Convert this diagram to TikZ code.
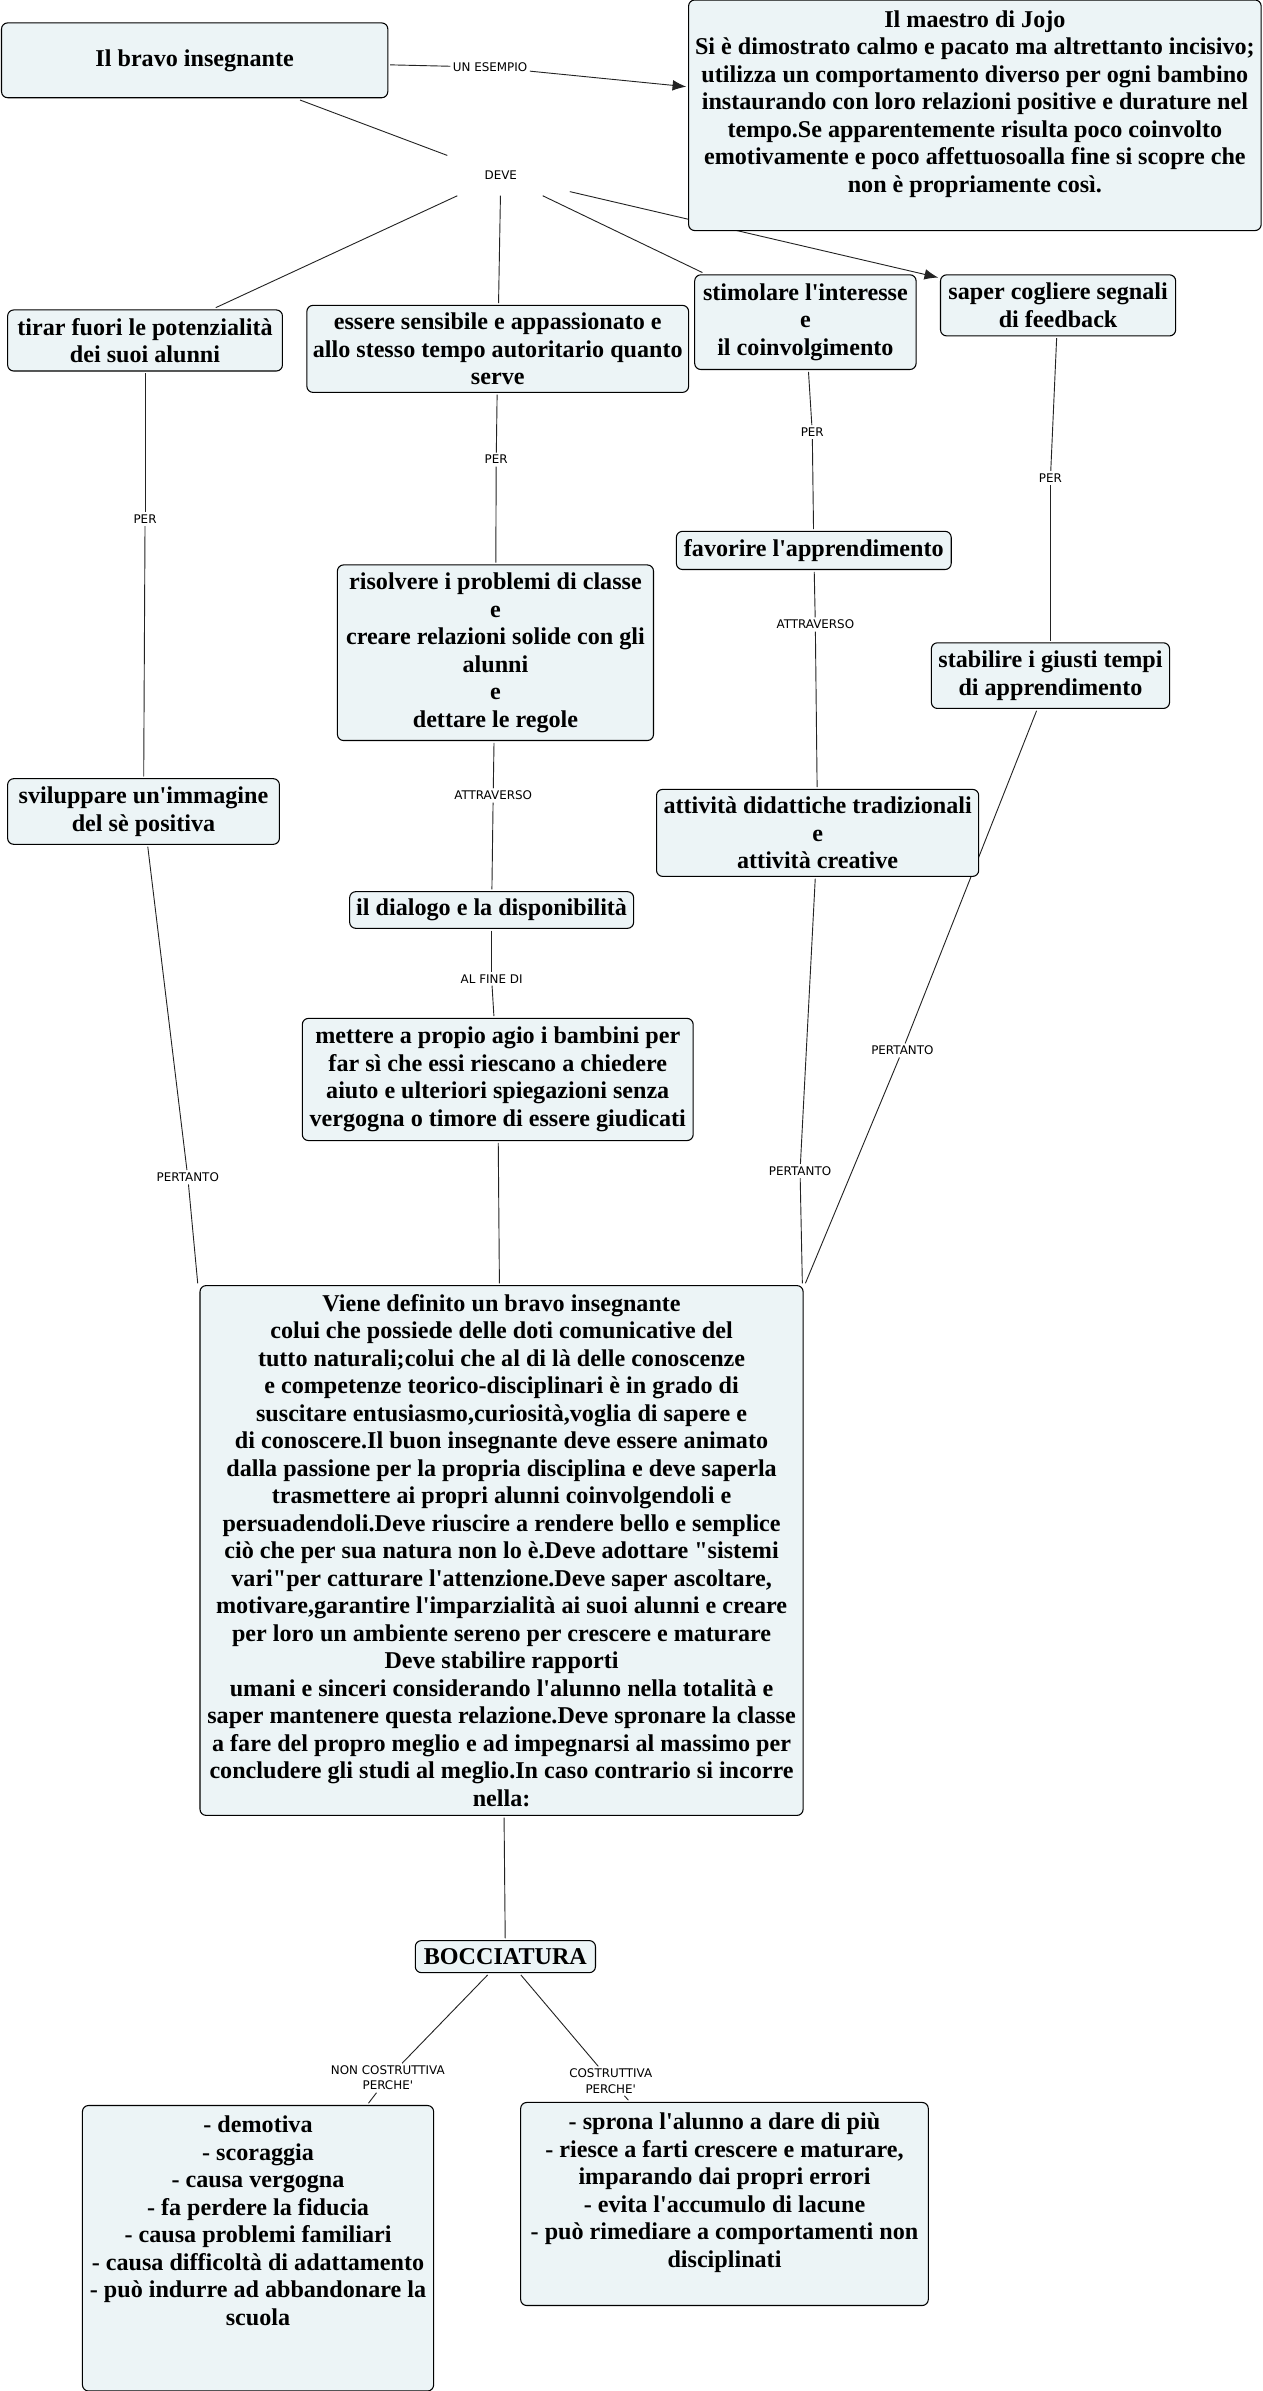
\documentclass[tikz,border=0pt]{standalone}
\usepackage{fontspec}
\usetikzlibrary{arrows.meta,backgrounds}
\newfontfamily\mapfont{Liberation Serif}
\newfontfamily\linkfont{DejaVu Sans}
\definecolor{cmapfill}{RGB}{236,244,246}
\definecolor{cmapline}{RGB}{35,35,35}
\tikzstyle{concept} = [draw=black, fill=cmapfill, rounded corners=4pt, line width=0.7pt, align=center, inner sep=1pt, outer sep=1.5pt, font=\mapfont\bfseries\fontsize{15.8}{18}\selectfont]
\tikzstyle{linkword} = [inner sep=1.5pt, align=center, font=\linkfont\fontsize{7.8}{10}\selectfont]
\tikzstyle{link} = [draw=cmapline, line width=0.6pt]
\tikzstyle{linkarrow} = [link, -{Latex[length=9pt,width=7pt]}]

\begin{document}
\begin{tikzpicture}[x=1pt,y=-1pt]%
\useasboundingbox (0,0) rectangle (827,1566);%
% concetti in alto
\node[concept, minimum width=253, minimum height=49] (bravo) at (127.5,39.5) {Il bravo insegnante};
\node[concept, minimum width=375, minimum height=151] (maestro) at (638.5,75.5) {Il maestro di Jojo\\Si è dimostrato calmo e pacato ma altrettanto incisivo;\\utilizza un comportamento diverso per ogni bambino\\instaurando con loro relazioni positive e durature nel\\tempo.Se apparentemente risulta poco coinvolto\\emotivamente e poco affettuosoalla fine si scopre che\\non è propriamente così.\\~};
\node[linkword] (esempio) at (321,44) {UN ESEMPIO};
\node[linkword, minimum width=90, minimum height=26] (deve) at (328,115) {DEVE};
% cosa deve fare
\node[concept, minimum width=180, minimum height=40] (tirar) at (95,223) {tirar fuori le potenzialità\\dei suoi alunni};
\node[concept, minimum width=250, minimum height=57] (essere) at (326,228.5) {essere sensibile e appassionato e\\allo stesso tempo autoritario quanto\\serve};
\node[concept, minimum width=145, minimum height=62] (stimolare) at (527.5,211) {stimolare l'interesse\\e\\il coinvolgimento};
\node[concept, minimum width=154, minimum height=40] (saper) at (693,200) {saper cogliere segnali\\di feedback};
% per
\node[linkword] (perTirar) at (95,340) {PER};
\node[linkword] (perEssere) at (325,301) {PER};
\node[linkword] (perStimolare) at (532,283) {PER};
\node[linkword] (perSaper) at (688,313) {PER};
\node[concept, minimum width=178, minimum height=43] (svil) at (94,531.5) {sviluppare un'immagine\\del sè positiva};
\node[concept, minimum width=207, minimum height=115] (risolvere) at (324.5,427.5) {risolvere i problemi di classe\\e\\creare relazioni solide con gli\\alunni\\e\\dettare le regole};
\node[concept, minimum width=180, minimum height=25] (favorire) at (533,360.5) {favorire l'apprendimento};
\node[concept, minimum width=156, minimum height=43] (stabilire) at (688,442.5) {stabilire i giusti tempi\\di apprendimento};
% attraverso
\node[linkword] (attrFavorire) at (534,409) {ATTRAVERSO};
\node[linkword] (attrRisolvere) at (323,521) {ATTRAVERSO};
\node[concept, minimum width=211, minimum height=57] (attivita) at (535.5,545.5) {attività didattiche tradizionali\\e\\attività creative};
\node[concept, minimum width=186, minimum height=24] (dialogo) at (322,596) {il dialogo e la disponibilità};
\node[linkword] (alfine) at (322,641) {AL FINE DI};
\node[concept, minimum width=256, minimum height=80] (mettere) at (326,707) {mettere a propio agio i bambini per\\far sì che essi riescano a chiedere\\aiuto e ulteriori spiegazioni senza\\vergogna o timore di essere giudicati};
% pertanto
\node[linkword] (pertSvil) at (123,771) {PERTANTO};
\node[linkword] (pertAttivita) at (524,767) {PERTANTO};
\node[linkword] (pertStabilire) at (591,688) {PERTANTO};
\node[concept, minimum width=395, minimum height=347] (definito) at (328.5,1015.5) {Viene definito un bravo insegnante\\colui che possiede delle doti comunicative del\\tutto naturali;colui che al di là delle conoscenze\\e competenze teorico-disciplinari è in grado di\\suscitare entusiasmo,curiosità,voglia di sapere e\\di conoscere.Il buon insegnante deve essere animato\\dalla passione per la propria disciplina e deve saperla\\trasmettere ai propri alunni coinvolgendoli e\\persuadendoli.Deve riuscire a rendere bello e semplice\\ciò che per sua natura non lo è.Deve adottare "sistemi\\vari"per catturare l'attenzione.Deve saper ascoltare,\\motivare,garantire l'imparzialità ai suoi alunni e creare\\per loro un ambiente sereno per crescere e maturare\\Deve stabilire rapporti\\umani e sinceri considerando l'alunno nella totalità e\\saper mantenere questa relazione.Deve spronare la classe\\a fare del propro meglio e ad impegnarsi al massimo per\\concludere gli studi al meglio.In caso contrario si incorre\\nella:};
% bocciatura
\node[concept, minimum width=118, minimum height=21] (bocciatura) at (331,1281.5) {BOCCIATURA};
\node[linkword] (nonCostr) at (254,1361) {NON COSTRUTTIVA\\PERCHE'};
\node[linkword] (costr) at (400,1363) {COSTRUTTIVA\\PERCHE'};
\node[concept, minimum width=230, minimum height=187] (negativo) at (169,1472.5) {- demotiva\\- scoraggia\\- causa vergogna\\- fa perdere la fiducia\\- causa problemi familiari\\- causa difficoltà di adattamento\\- può indurre ad abbandonare la\\scuola\\~\\~};
\node[concept, minimum width=267, minimum height=133] (positivo) at (474.5,1443.5) {- sprona l'alunno a dare di più\\- riesce a farti crescere e maturare,\\imparando dai propri errori\\- evita l'accumulo di lacune\\- può rimediare a comportamenti non\\disciplinati\\~};
% collegamenti
\begin{scope}[on background layer]
\draw[link] (bravo) -- (esempio);
\draw[linkarrow] (esempio) -- (maestro);
\draw[link] (bravo) -- (deve);
\draw[link] (deve) -- (tirar);
\draw[link] (deve) -- (essere);
\draw[link] (deve) -- (stimolare);
\draw[linkarrow] (deve) -- (saper);
\draw[link] (tirar) -- (perTirar);
\draw[link] (perTirar) -- (svil);
\draw[link] (essere) -- (perEssere);
\draw[link] (perEssere) -- (risolvere);
\draw[link] (stimolare) -- (perStimolare);
\draw[link] (perStimolare) -- (favorire);
\draw[link] (saper) -- (perSaper);
\draw[link] (perSaper) -- (stabilire);
\draw[link] (favorire) -- (attrFavorire);
\draw[link] (attrFavorire) -- (attivita);
\draw[link] (risolvere) -- (attrRisolvere);
\draw[link] (attrRisolvere) -- (dialogo);
\draw[link] (dialogo) -- (alfine);
\draw[link] (alfine) -- (mettere);
\draw[link] (mettere) -- (definito);
\draw[link] (svil) -- (pertSvil);
\draw[link] (pertSvil) -- (definito.north west);
\draw[link] (attivita) -- (pertAttivita);
\draw[link] (pertAttivita) -- ([xshift=-2pt]definito.north east);
\draw[link] (stabilire) -- (pertStabilire);
\draw[link] (pertStabilire) -- (definito.north east);
\draw[link] (definito) -- (bocciatura);
\draw[link] (bocciatura) -- (nonCostr);
\draw[link] (nonCostr) -- (negativo);
\draw[link] (bocciatura) -- (costr);
\draw[link] (costr) -- (positivo);
\end{scope}
\end{tikzpicture}
\end{document}
